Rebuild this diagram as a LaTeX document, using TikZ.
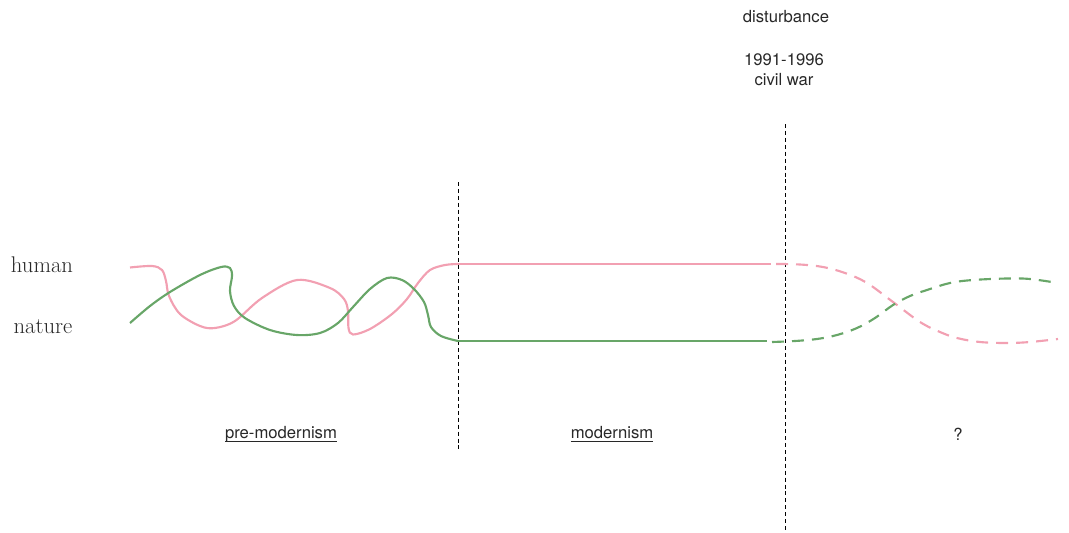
\documentclass[tikz,border=0pt]{standalone}
\usepackage{fontspec}
\setsansfont{TeX Gyre Heros}
\definecolor{humanpink}{RGB}{242,160,178}
\definecolor{naturegreen}{RGB}{104,166,104}
\definecolor{inkgray}{RGB}{40,40,40}
\newcommand{\periodname}[1]{\underline{\raisebox{0pt}[\height][1pt]{#1}}}
\tikzset{
  label/.style={font=\sffamily\fontsize{12.5}{14}\selectfont, text=inkgray, inner sep=0pt},
  side/.style={font=\fontsize{17}{20}\selectfont, text=inkgray, inner sep=0pt},
  divider/.style={black, line width=0.75pt, dash pattern=on 3pt off 2.2pt},
  humanline/.style={humanpink, line width=1.6pt},
  natureline/.style={naturegreen, line width=1.6pt},
  future/.style={dash pattern=on 9pt off 6pt}
}
\begin{document}
\begin{tikzpicture}[x=0.75pt, y=-0.75pt]

        \useasboundingbox (0,0) rectangle (1069,532);
        \def\xmod{458}
        \def\xdis{785}

        % dividers
        \coordinate (modtop) at (\xmod,182);
        \coordinate (modbot) at (\xmod,452);
        \coordinate (distop) at (\xdis,124);
        \coordinate (disbot) at (\xdis,532);
        \draw[divider] (modtop) -- (modbot);
        \draw[divider] (distop) -- (disbot);

        % texts
        \node[side] (human) at (42,265) {human};
        \node[side] (nature) at (43,327) {nature};
        \node[label] (disturbance) at (786,17) {disturbance};
        \node[label] (years) at (784,60) {1991-1996};
        \node[label] (civilwar) at (784,80) {civil war};
        \node[label] (premod) at (281,434) {\periodname{pre-modernism}};
        \node[label] (mod) at (612,434) {\periodname{modernism}};
        \node[label] (unknown) at (958,434) {?};

        % human
        \draw[humanline] plot [smooth, tension=0.55] coordinates {
          (130,267.5) (152,266) (162,270) (166,281) (169,296) (180,314)
          (200,326) (215,328) (235,321) (262,298) (297,280) (330,288)
          (344,299) (348,311) (348.5,328) (353,334.5) (370,329) (392,314)
          (407,299) (418,283) (430,270) (445,265) (458,264)};
        \draw[humanline] (458,264) -- (771,264);
        \draw[humanline, future] plot [smooth, tension=0.6] coordinates {
          (776,264) (800,264.5) (823,267) (845,273) (867,283) (893,302)
          (920,322) (940,332) (957,338) (980,342) (1007,343) (1030,342)
          (1058,339)};

        % nature
        \draw[natureline] plot [smooth, tension=0.55] coordinates {
          (130,323) (150,306) (170,292) (200,275) (221,267) (230,268)
          (232,276) (230,291) (234,306) (245,318) (270,330) (297,335)
          (320,333) (338,323) (353,307) (370,289) (387,278) (402,280)
          (414,289) (424,302) (428,315) (431,327) (441,336) (458,341)};
        \draw[natureline] (458,341) -- (767,341);
        \draw[natureline, future] plot [smooth, tension=0.6] coordinates {
          (772,342) (795,341) (817,339) (837,335) (857,328) (875,318)
          (893,305) (910,296) (927,290) (950,283) (973,280) (1007,278.5)
          (1030,279) (1058,283)};

\end{tikzpicture}
\end{document}
